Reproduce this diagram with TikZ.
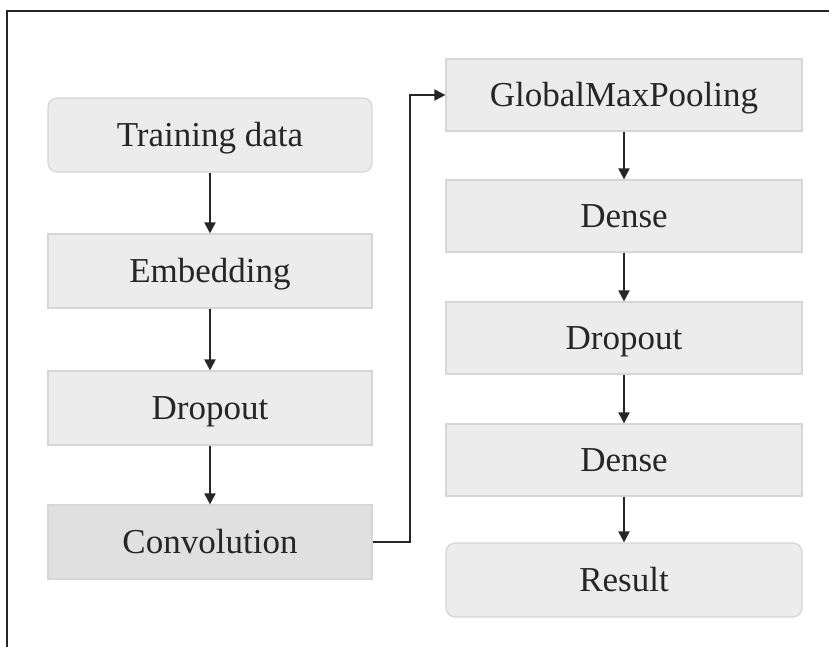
\documentclass[tikz,border=0pt]{standalone}
\usepackage{fontspec}
\setmainfont{Liberation Serif}
\usetikzlibrary{arrows.meta}
\definecolor{boxfill}{HTML}{ECECEC}
\definecolor{boxline}{HTML}{D6D6D6}
\definecolor{convfill}{HTML}{E0E0E0}
\definecolor{inktext}{HTML}{262626}
\tikzset{
  layer/.style={draw=boxline, line width=1.2pt, fill=boxfill, text=inktext,
    font=\fontsize{35}{38}\selectfont, inner sep=0pt, anchor=center,
    text height=23pt, text depth=0pt},
  leftbox/.style={layer, minimum width=324pt, minimum height=74pt},
  rightbox/.style={layer, minimum width=356pt, minimum height=72pt},
  endbox/.style={rounded corners=9pt},
  flow/.style={draw=black!85, line width=2pt, -{Triangle[length=11pt,width=11pt]}}
}
\begin{document}
\begin{tikzpicture}[x=1pt,y=-1pt]
  \useasboundingbox (0,0) rectangle (829,646);
  \clip (0,0) rectangle (829,646);
  % page frame (only top and left edges are in view)
  \draw[line width=2pt, black!85] (7,660) -- (7,11) -- (840,11);

  % left column
  \node[leftbox, endbox] (train) at (210,135) {Training data};
  \node[leftbox] (embed) at (210,271) {Embedding};
  \node[leftbox] (drop1) at (210,408) {Dropout};
  \node[leftbox, fill=convfill] (conv) at (210,542) {Convolution};

  % right column
  \node[rightbox] (gmp) at (624,95) {GlobalMaxPooling};
  \node[rightbox] (dense1) at (624,216) {Dense};
  \node[rightbox] (drop2) at (624,338) {Dropout};
  \node[rightbox] (dense2) at (624,460) {Dense};
  \node[rightbox, endbox, minimum height=74pt] (result) at (624,580) {Result};

  % connectors
  \draw[flow] (train) -- (embed);
  \draw[flow] (embed) -- (drop1);
  \draw[flow] (drop1) -- (conv);
  \draw[flow] (conv.east) -- ++(37,0) |- (gmp.west);
  \draw[flow] (gmp) -- (dense1);
  \draw[flow] (dense1) -- (drop2);
  \draw[flow] (drop2) -- (dense2);
  \draw[flow] (dense2) -- (result);
\end{tikzpicture}
\end{document}
